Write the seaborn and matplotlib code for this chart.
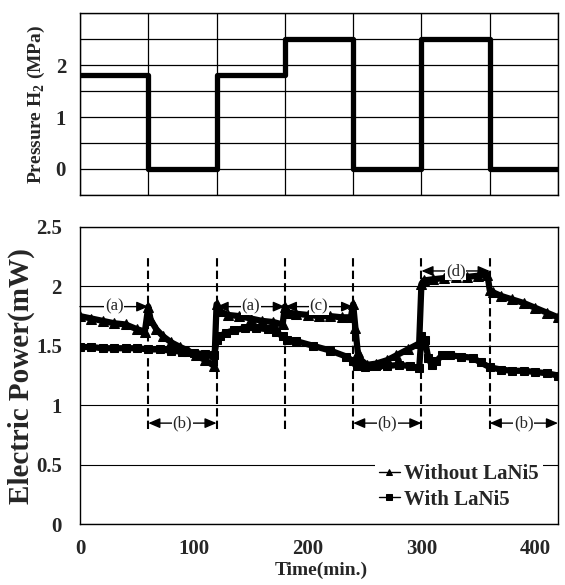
import pandas as pd
import seaborn as sns
import matplotlib.pyplot as plt
from matplotlib.ticker import MultipleLocator

# Hydrogen pressure schedule (step changes every 60 min)
p_time = [0, 60, 120, 180, 240, 300, 360, 420]
p_value = [1.8, 0, 1.8, 2.5, 0, 2.5, 0, 0]

# Electric power without LaNi5
t_without = [0, 10, 20, 30, 40, 50, 57, 60, 62, 67, 73, 80, 88, 95, 102, 110, 118,
             120, 123, 130, 140, 150, 160, 170, 178, 180, 183, 190, 200, 210, 220, 230, 238,
             240, 242, 244, 247, 252, 260, 270, 278, 288, 298,
             300, 302, 310, 320, 330, 340, 350, 358,
             360, 363, 370, 380, 390, 400, 410, 420]
p_without = [1.75, 1.73, 1.71, 1.69, 1.68, 1.64, 1.62, 1.83, 1.72, 1.64, 1.58, 1.53, 1.49, 1.46, 1.42, 1.38, 1.33,
             1.85, 1.79, 1.76, 1.75, 1.73, 1.71, 1.70, 1.68, 1.83, 1.78, 1.77, 1.76, 1.75, 1.75, 1.74, 1.74,
             1.85, 1.65, 1.45, 1.38, 1.34, 1.35, 1.38, 1.42, 1.47, 1.52,
             2.02, 2.05, 2.06, 2.07, 2.08, 2.08, 2.09, 2.10,
             1.97, 1.95, 1.92, 1.89, 1.86, 1.82, 1.78, 1.74]

# Electric power with LaNi5
t_with = [0, 10, 20, 30, 40, 50, 60, 70, 80, 90, 100, 110, 118,
          120, 123, 128, 135, 145, 155, 165, 172, 178,
          182, 190, 205, 220, 234, 240, 243, 250, 260, 270, 280, 290, 298,
          300, 303, 306, 309, 313, 318, 325, 335, 345, 352,
          360, 370, 380, 390, 400, 410, 420]
p_with = [1.49, 1.49, 1.48, 1.48, 1.48, 1.48, 1.47, 1.47, 1.46, 1.45, 1.44, 1.43, 1.42,
          1.55, 1.58, 1.61, 1.63, 1.65, 1.65, 1.64, 1.62, 1.58,
          1.55, 1.54, 1.50, 1.46, 1.41, 1.37, 1.33, 1.32, 1.33, 1.33, 1.34, 1.33, 1.31,
          1.58, 1.55, 1.40, 1.34, 1.37, 1.42, 1.42, 1.41, 1.40, 1.36,
          1.32, 1.30, 1.29, 1.29, 1.28, 1.27, 1.25]

# Power axis ticks
power_ticks = [0, 0.5, 1, 1.5, 2, 2.5]
power_labels = ['0', '0.5', '1', '1.5', '2', '2.5']

# Period annotations
ann_label = ['(a)', '(b)', '(a)', '(c)', '(b)', '(d)', '(b)']
ann_start = [0, 60, 120, 180, 240, 300, 360]
ann_end = [60, 120, 180, 240, 300, 360, 420]
ann_level = [1.83, 0.85, 1.83, 1.83, 0.85, 2.13, 0.85]

sns.set_style("white")
plt.rcParams['font.family'] = ['Liberation Serif', 'DejaVu Serif']
plt.rcParams['font.weight'] = 'bold'
plt.rcParams['axes.labelweight'] = 'bold'
plt.rcParams['mathtext.fontset'] = 'custom'
plt.rcParams['mathtext.rm'] = 'Liberation Serif:bold'
plt.rcParams['mathtext.bf'] = 'Liberation Serif:bold'

fig = plt.figure(figsize=(5.65, 5.85), dpi=100)
ax1 = fig.add_axes([0.1416, 0.6667, 0.846, 0.311])
ax2 = fig.add_axes([0.1416, 0.104, 0.846, 0.508])

# ---- top: pressure ----
df_p = pd.DataFrame({'time': p_time, 'pressure': p_value})
sns.lineplot(data=df_p, x='time', y='pressure', ax=ax1, color='black',
             linewidth=3.8, drawstyle='steps-post', estimator=None, sort=False)
ax1.set_xlim(0, 420)
ax1.set_ylim(-0.5, 3.0)
ax1.xaxis.set_major_locator(MultipleLocator(60))
ax1.set_xticklabels([])
ax1.set_yticks([0, 1, 2], labels=['0', '1', '2'])
ax1.yaxis.set_minor_locator(MultipleLocator(0.5))
ax1.tick_params(axis='both', which='both', length=0)
ax1.tick_params(axis='y', labelsize=15, pad=10)
ax1.grid(True, which='both', color='black', linewidth=0.9)
ax1.set_xlabel('')
ax1.set_ylabel('Pressure H$_2$ (MPa)', fontsize=14)
ax1.yaxis.set_label_coords(-0.069, 0.5)
for s in ax1.spines.values():
    s.set_color('black')
    s.set_linewidth(1)

# ---- bottom: electric power ----
df_wo = pd.DataFrame({'time': t_without, 'power': p_without})
df_w = pd.DataFrame({'time': t_with, 'power': p_with})
sns.lineplot(data=df_wo, x='time', y='power', ax=ax2, color='black', marker='^',
             markersize=7, linewidth=4.5, markeredgecolor='black',
             estimator=None, sort=False, label='Without LaNi5')
sns.lineplot(data=df_w, x='time', y='power', ax=ax2, color='black', marker='s',
             markersize=6, linewidth=4.5, markeredgecolor='black',
             estimator=None, sort=False, label='With LaNi5')

ax2.vlines(p_time[1:-1], 0.8, 2.25, colors='black', linewidth=1.5,
           linestyles=(0, (4, 2)))

for lab, a, b, y in zip(ann_label, ann_start, ann_end, ann_level):
    style = '-|>' if a == 0 else '<|-|>'
    ax2.annotate('', xy=(b, y), xytext=(a, y),
                 arrowprops=dict(arrowstyle=style + ',head_length=0.7,head_width=0.3',
                                 color='black', lw=1, shrinkA=0, shrinkB=0))
    ax2.text((a + b) / 2, y, lab, ha='center', va='center', fontsize=12,
             fontweight='normal',
             bbox=dict(facecolor='white', edgecolor='none', pad=0.5))

ax2.set_xlim(0, 420)
ax2.set_ylim(0, 2.5)
ax2.xaxis.set_major_locator(MultipleLocator(100))
ax2.xaxis.set_minor_locator(MultipleLocator(20))
ax2.set_yticks(power_ticks, labels=power_labels)
ax2.tick_params(axis='x', which='major', direction='in', length=5, width=1,
                labelsize=15, pad=11)
ax2.tick_params(axis='x', which='minor', direction='in', length=4, width=1)
ax2.tick_params(axis='y', length=0, labelsize=15, pad=13)
ax2.grid(True, axis='y', color='black', linewidth=0.8)
ax2.set_xlabel('Time(min.)', fontsize=14)
ax2.xaxis.set_label_coords(0.504, -0.127)
ax2.set_ylabel('Electric Power(mW)', fontsize=21)
ax2.yaxis.set_label_coords(-0.095, 0.5)
for s in ax2.spines.values():
    s.set_color('black')
    s.set_linewidth(1)

leg = ax2.legend(loc='lower right', bbox_to_anchor=(0.99, 0.0), fontsize=15,
                 frameon=True, facecolor='white', edgecolor='none', framealpha=1,
                 handlelength=1.0, handletextpad=0.2, labelspacing=0.25,
                 borderpad=0.2)
for line in leg.get_lines():
    line.set_linewidth(1)
    line.set_markersize(5)

fig.savefig('out.png', dpi=100)
